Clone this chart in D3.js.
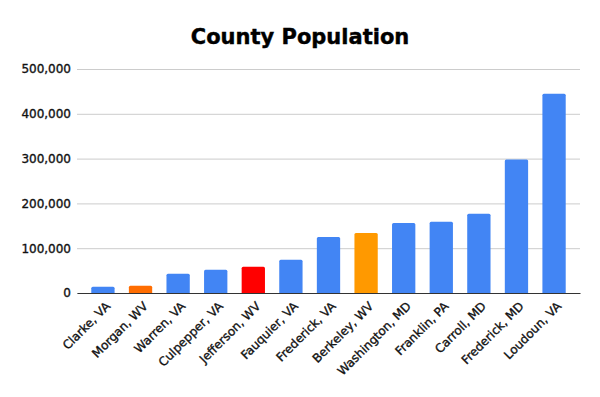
<!DOCTYPE html>
<html>
<head>
<meta charset="utf-8">
<script src="https://cdn.jsdelivr.net/npm/d3@7"></script>
<style>
  body { margin: 0; background: #fff; }
  text { font-family: "DejaVu Sans", Verdana, sans-serif; }
</style>
</head>
<body>
<svg id="chart" width="600" height="397"></svg>
<script>
const counties = [
  "Clarke, VA", "Morgan, WV", "Warren, VA", "Culpepper, VA", "Jefferson, WV",
  "Fauquier, VA", "Frederick, VA", "Berkeley, WV", "Washington, MD",
  "Franklin, PA", "Carroll, MD", "Frederick, MD", "Loudoun, VA"
];
const population = [
  14000, 16000, 43000, 52000, 58500, 74000, 125000, 134000, 156000,
  159000, 177000, 298000, 445000
];
const barColors = [
  "#4285f4", "#ff6d01", "#4285f4", "#4285f4", "#ff0000", "#4285f4", "#4285f4",
  "#ff9900", "#4285f4", "#4285f4", "#4285f4", "#4285f4", "#4285f4"
];
const yTicks = [0, 100000, 200000, 300000, 400000, 500000];

const width = 600;
const height = 397;
const margin = { top: 69, right: 20, bottom: 104, left: 77 };
const plotWidth = width - margin.left - margin.right;
const plotHeight = height - margin.top - margin.bottom;

const svgEl = d3.select("#chart");

// Title
svgEl
  .append("text")
  .attr("x", 300)
  .attr("y", 44)
  .attr("text-anchor", "middle")
  .style("font-size", "21px")
  .style("font-weight", "bold")
  .attr("stroke", "#000")
  .attr("stroke-width", 0.4)
  .text("County Population");

const svg = svgEl
  .append("g")
  .attr("transform", `translate(${margin.left},${margin.top})`);

const xScale = d3.scaleBand().domain(counties).range([0, plotWidth]).padding(0.38);
const yScale = d3.scaleLinear().domain([0, 500000]).range([plotHeight, 0]);

// Grid + y labels
const yAxis = svg
  .append("g")
  .call(
    d3
      .axisLeft(yScale)
      .tickValues(yTicks)
      .tickSize(-plotWidth)
      .tickPadding(6)
      .tickFormat(d3.format(","))
  );
yAxis.select(".domain").remove();
yAxis.selectAll("line").attr("stroke", "#cccccc");
yAxis
  .selectAll("text")
  .style("font-size", "12px")
  .attr("fill", "#111")
  .attr("stroke", "#111")
  .attr("stroke-width", 0.35);

// Bars
svg
  .append("g")
  .selectAll("path")
  .data(population)
  .join("path")
  .attr("fill", (d, i) => barColors[i])
  .attr("d", (d, i) => {
    const x0 = xScale(counties[i]);
    const w = xScale.bandwidth();
    const y0 = yScale(d);
    const r = 1.5;
    return `M${x0},${plotHeight}V${y0 + r}Q${x0},${y0} ${x0 + r},${y0}` +
      `H${x0 + w - r}Q${x0 + w},${y0} ${x0 + w},${y0 + r}V${plotHeight}Z`;
  });

// X axis
const xAxis = svg
  .append("g")
  .attr("transform", `translate(0,${plotHeight})`)
  .call(d3.axisBottom(xScale).tickSize(0).tickPadding(0));
xAxis.select(".domain").attr("stroke", "#333333").attr("stroke-width", 1.2);
xAxis
  .selectAll("text")
  .style("font-size", "12px")
  .attr("fill", "#111")
  .attr("stroke", "#111")
  .attr("stroke-width", 0.35)
  .attr("text-anchor", "end")
  .attr("dy", null)
  .attr("transform", "translate(8,14) rotate(-45)");
</script>
</body>
</html>
